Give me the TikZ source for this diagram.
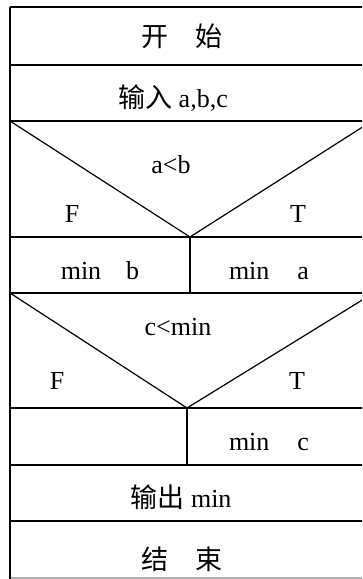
\documentclass[tikz,border=0pt]{standalone}
\usepackage{fontspec}
\setmainfont{Liberation Serif}
\newfontfamily\cjk{Noto Sans CJK SC}
\newcommand\zhtext{\fontsize{27}{30}\selectfont\cjk}
\begin{document}
\begin{tikzpicture}[x=1pt,y=-1pt,
  frame/.style={line width=1.4pt,black},
  thin/.style={line width=1.2pt,black},
  lbl/.style={inner sep=0pt,font=\fontsize{26}{30}\selectfont},
  zh/.style={inner sep=0pt,font=\zhtext}]
\useasboundingbox (0,0) rectangle (362,579);
\clip (0,0) rectangle (362,579);
% horizontal rows
\coordinate (L0) at (10,7);
\coordinate (L1) at (10,65);
\coordinate (L2) at (10,121);
\coordinate (L3) at (10,237);
\coordinate (L4) at (10,293);
\coordinate (L5) at (10,408);
\coordinate (L6) at (10,465);
\coordinate (L7) at (10,521);
\coordinate (L8) at (10,578);
\foreach \i in {0,...,7} {\draw[frame] (L\i) -- ++(370,0);}
\draw[line width=1.3pt,black!30] (L8) -- ++(370,0);
\draw[frame] (L0) -- (10,579);
% first decision
\coordinate (A1) at (190,237);
\draw[thin] (L2) -- (A1) -- (372,121);
\draw[thin] (A1) -- (190,293);
% second decision
\coordinate (A2) at (187,408);
\draw[thin] (L4) -- (A2) -- (372,294);
\draw[thin] (A2) -- (187,465);
% texts
\node[zh] (start) at (182,36) {开\hspace{1em}始};
\node[lbl,anchor=base] (input) at (173,107) {{\zhtext 输入} a,b,c};
\node[lbl,anchor=base] (c1) at (171,173) {a<b};
\node[lbl,anchor=base] (f1) at (72,222) {F};
\node[lbl,anchor=base] (t1) at (298,222) {T};
\node[lbl,anchor=base] (mb) at (100,279) {min\hspace{25pt}b};
\node[lbl,anchor=base] (ma) at (269,279) {min\hspace{28pt}a};
\node[lbl,anchor=base] (c2) at (178,335) {c<min};
\node[lbl,anchor=base] (f2) at (57,389) {F};
\node[lbl,anchor=base] (t2) at (297,389) {T};
\node[lbl,anchor=base] (mc) at (269,450) {min\hspace{28pt}c};
\node[lbl,anchor=base] (out) at (181,507) {{\zhtext 输出} min};
\node[zh] (end) at (182,559) {结\hspace{1em}束};
\end{tikzpicture}
\end{document}
